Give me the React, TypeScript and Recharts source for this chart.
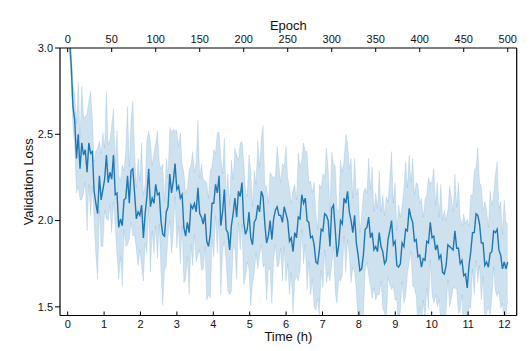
import React from "react";
import {
  ComposedChart,
  Area,
  Line,
  XAxis,
  YAxis,
  ReferenceLine,
} from "recharts";

// mean validation loss, one value every 2 epochs (0..500)
const MEAN_LOSS = [
  3.2, 3.05, 2.9, 2.66, 2.58, 2.36, 2.5, 2.3, 2.45, 2.38,
  2.41, 2.28, 2.45, 2.39, 2.4, 2.17, 2.1, 2.04, 2.26, 2.12,
  2.18, 2.24, 2.38, 2.22, 2.28, 2.24, 2.38, 2.15, 2.16, 1.96,
  2.01, 1.97, 2.12, 2.13, 2.26, 2.1, 2.29, 2.3, 2.16, 2.01,
  2.05, 2.03, 2.09, 1.9, 2.04, 2.14, 2.3, 2.08, 2.13, 2.1,
  2.21, 2.15, 2.16, 2.0, 1.92, 1.91, 2.05, 2.08, 2.27, 2.16,
  2.23, 2.33, 2.18, 2.2, 2.13, 2.15, 1.96, 1.91, 1.99, 1.93,
  2.09, 2.07, 2.1, 2.05, 2.19, 2.04, 2.02, 1.98, 2.04, 1.88,
  1.85, 1.92, 2.1, 2.1, 2.21, 2.16, 2.26, 1.97, 2.05, 2.18,
  1.95, 1.93, 1.83, 1.97, 2.04, 2.13, 2.02, 2.17, 2.14, 2.22,
  1.99, 1.92, 1.95, 2.05, 1.9, 1.86, 1.99, 2.01, 2.09, 2.05,
  2.17, 2.14, 1.98, 1.87, 1.91, 2.0, 1.89, 2.01, 2.06, 2.08,
  2.03, 2.03, 1.99, 2.08, 2.04, 2.0, 1.88, 1.9, 1.82, 1.93,
  1.9, 2.02, 2.01, 2.15, 2.1, 2.13, 2.0, 1.99, 1.9, 1.91,
  1.86, 1.76, 1.75, 1.83, 1.95, 1.94, 2.04, 2.03, 2.0, 1.85,
  2.07, 2.09, 1.95, 1.79, 1.86, 2.0, 1.98, 2.13, 2.1, 2.17,
  2.05, 2.0, 1.93, 2.03, 1.87, 1.8, 1.71, 1.72, 1.8, 1.95,
  1.96, 2.02, 1.9, 1.93, 1.83, 1.85, 1.82, 1.93, 1.85, 1.82,
  1.75, 1.77, 1.89, 1.94, 2.0, 1.86, 1.88, 1.74, 1.73, 1.75,
  1.87, 1.85, 1.95, 1.94, 2.07, 2.02, 1.99, 1.88, 1.89, 1.79,
  1.8, 1.73, 1.78, 1.77, 1.88, 1.87, 1.99, 1.9, 1.91, 1.83,
  1.86, 1.78, 1.8, 1.7, 1.69, 1.74, 1.86, 1.85, 1.84, 1.83,
  1.94, 1.84, 1.84, 1.75, 1.77, 1.68, 1.69, 1.61, 1.74, 1.82,
  1.93, 1.93, 2.04, 2.03, 1.98, 1.87, 1.87, 1.74, 1.76, 1.73,
  1.81, 1.82, 1.94, 1.93, 1.95, 1.83, 1.8, 1.72, 1.76, 1.72,
  1.76,
];

// half width of the shaded band around the mean
const BAND_HALF = [
  0.04, 0.07, 0.1, 0.12, 0.16, 0.2, 0.3, 0.18, 0.33, 0.22,
  0.19, 0.34, 0.24, 0.36, 0.2, 0.17, 0.3, 0.38, 0.2, 0.27,
  0.33, 0.18, 0.37, 0.22, 0.19, 0.31, 0.27, 0.18, 0.36, 0.3,
  0.22, 0.35, 0.17, 0.28, 0.4, 0.21, 0.3, 0.39, 0.24, 0.18,
  0.31, 0.2, 0.36, 0.25, 0.17, 0.33, 0.22, 0.38, 0.19, 0.29,
  0.24, 0.37, 0.18, 0.3, 0.41, 0.2, 0.31, 0.17, 0.27, 0.35,
  0.3, 0.19, 0.34, 0.23, 0.38, 0.18, 0.32, 0.25, 0.2, 0.36,
  0.23, 0.33, 0.18, 0.29, 0.39, 0.21, 0.31, 0.26, 0.19, 0.34,
  0.28, 0.37, 0.21, 0.31, 0.18, 0.35, 0.25, 0.4, 0.22, 0.3,
  0.19, 0.34, 0.26, 0.38, 0.2, 0.29, 0.36, 0.18, 0.31, 0.24,
  0.36, 0.25, 0.19, 0.33, 0.39, 0.22, 0.3, 0.2, 0.37, 0.26,
  0.31, 0.41, 0.23, 0.33, 0.19, 0.28, 0.37, 0.24, 0.2, 0.35,
  0.29, 0.19, 0.34, 0.23, 0.39, 0.25, 0.31, 0.2, 0.36, 0.28,
  0.22, 0.37, 0.3, 0.2, 0.35, 0.27, 0.4, 0.23, 0.33, 0.25,
  0.36, 0.28, 0.2, 0.38, 0.24, 0.33, 0.21, 0.39, 0.3, 0.2,
  0.33, 0.24, 0.37, 0.27, 0.2, 0.35, 0.3, 0.22, 0.4, 0.28,
  0.25, 0.36, 0.2, 0.33, 0.28, 0.39, 0.22, 0.31, 0.36, 0.24,
  0.2, 0.34, 0.28, 0.38, 0.22, 0.31, 0.25, 0.36, 0.2, 0.33,
  0.28, 0.37, 0.22, 0.31, 0.4, 0.24, 0.34, 0.2, 0.36, 0.27,
  0.22, 0.33, 0.39, 0.25, 0.31, 0.2, 0.37, 0.27, 0.33, 0.42,
  0.3, 0.4, 0.24, 0.35, 0.27, 0.38, 0.22, 0.33, 0.39, 0.26,
  0.36, 0.24, 0.41, 0.3, 0.37, 0.26, 0.2, 0.35, 0.29, 0.22,
  0.33, 0.24, 0.38, 0.27, 0.2, 0.36, 0.29, 0.4, 0.23, 0.33,
  0.21, 0.36, 0.27, 0.39, 0.24, 0.33, 0.19, 0.37, 0.3, 0.23,
  0.36, 0.27, 0.21, 0.34, 0.39, 0.24, 0.31, 0.2, 0.36, 0.27,
  0.22,
];

const EPOCH_STEP = 2;
const EPOCH_TICKS = [0, 50, 100, 150, 200, 250, 300, 350, 400, 450, 500];
const HOUR_TICKS = [0, 1, 2, 3, 4, 5, 6, 7, 8, 9, 10, 11, 12];
const LOSS_TICKS = [1.5, 2.0, 2.5, 3.0];

// 500 epochs took about 12.09 h
const EPOCHS_PER_HOUR = 41.36;
const X_MIN = -8.75;
const X_MAX = 510.2;

const rows = MEAN_LOSS.map((m, i) => ({
  epoch: i * EPOCH_STEP,
  mean: m,
  band: [m - BAND_HALF[i], m + BAND_HALF[i]],
}));

const FONT = "'Liberation Sans', Arial, sans-serif";
const tickStyle = { fontSize: 11, fill: "#111", fontFamily: FONT };
const titleStyle = { fontSize: 13, fill: "#111", fontFamily: FONT };
const axisLine = { stroke: "#000", strokeWidth: 1.2 };

export default function App() {
  return (
    <ComposedChart
      width={522}
      height={340}
      data={rows}
      margin={{ top: 0, right: 13.3, bottom: 4.5, left: 0 }}
    >
      <XAxis
        xAxisId="top"
        orientation="top"
        type="number"
        dataKey="epoch"
        domain={[X_MIN, X_MAX]}
        allowDataOverflow
        ticks={EPOCH_TICKS}
        interval={0}
        height={40}
        tickSize={-4}
        tickMargin={9}
        tick={tickStyle}
        axisLine={axisLine}
        tickLine={{ stroke: "#000" }}
        label={{ value: "Epoch", position: "insideTop", offset: 13, style: titleStyle }}
      />
      <XAxis
        xAxisId="bottom"
        orientation="bottom"
        type="number"
        dataKey="epoch"
        domain={[X_MIN, X_MAX]}
        allowDataOverflow
        ticks={HOUR_TICKS.map((h) => h * EPOCHS_PER_HOUR)}
        tickFormatter={(v: number) => String(Math.round(v / EPOCHS_PER_HOUR))}
        interval={0}
        height={28}
        tickSize={-4}
        tickMargin={8.5}
        tick={tickStyle}
        axisLine={axisLine}
        tickLine={{ stroke: "#000" }}
        label={{ value: "Time (h)", position: "insideBottom", offset: 2.5, style: titleStyle }}
      />
      <YAxis
        type="number"
        domain={[1.45, 3.0]}
        allowDataOverflow
        ticks={LOSS_TICKS}
        interval={0}
        tickFormatter={(v: number) => v.toFixed(1)}
        width={52}
        tickSize={5}
        tickMargin={2}
        tick={tickStyle}
        axisLine={axisLine}
        tickLine={{ stroke: "#000" }}
        label={{
          value: "Validation Loss",
          angle: -90,
          position: "insideLeft",
          offset: 20,
          style: { ...titleStyle, textAnchor: "middle" },
        }}
      />
      <Area
        xAxisId="bottom"
        type="linear"
        dataKey="band"
        stroke="#1f77b4"
        strokeOpacity={0.12}
        fill="#1f77b4"
        fillOpacity={0.22}
        isAnimationActive={false}
      />
      <Line
        xAxisId="top"
        type="linear"
        dataKey="mean"
        stroke="#1f77b4"
        strokeWidth={1.4}
        dot={false}
        isAnimationActive={false}
      />
      <ReferenceLine xAxisId="top" x={X_MAX} stroke="#000" strokeWidth={1.2} />
    </ComposedChart>
  );
}
